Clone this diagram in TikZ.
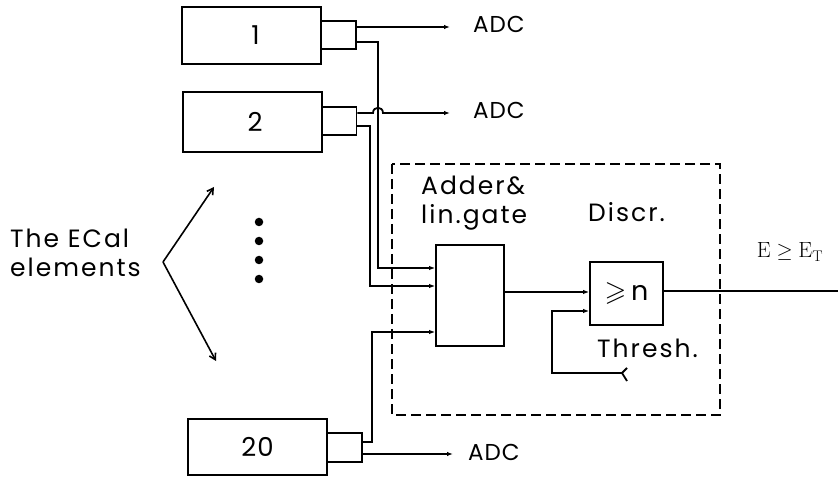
\documentclass[tikz,border=0pt]{standalone}
\usepackage{amssymb}
\usepackage{fontspec}
\newfontfamily\lab[LetterSpace=8]{Poppins}
\newfontfamily\labn[LetterSpace=4]{Poppins}
\usetikzlibrary{arrows.meta}
\begin{document}
\begin{tikzpicture}[x=1pt,y=-1pt,
  elem/.style={draw,line width=1.8pt,minimum width=139pt,minimum height=58pt,inner sep=0pt,font=\labn\fontsize{26}{30}\selectfont},
  conn/.style={draw,line width=1.8pt,minimum width=35pt,minimum height=28pt,inner sep=0pt},
  blk/.style={draw,line width=1.8pt,inner sep=0pt},
  sig/.style={line width=1.8pt},
  tip/.style={-{Latex[length=6pt,width=4.5pt]}},
  barb/.style={line width=1.6pt,-{Straight Barb[length=6pt,width=7pt]}},
  txt/.style={font=\lab\fontsize{25}{29}\selectfont,inner sep=0pt},
  adct/.style={font=\labn\fontsize{23}{28}\selectfont,inner sep=0pt,anchor=base west},
  dot/.style={circle,fill,inner sep=0pt,minimum size=8.5pt}
]
\useasboundingbox (0,0) rectangle (838,478);

% ECal elements
\node[elem,minimum height=57pt] (b1) at (251.5,35.5) {\hspace{8pt}1};
\node[conn] (c1) at (338.5,35) {};
\node[elem,minimum height=60pt] (b2) at (252.5,122) {\hspace{5pt}2};
\node[conn] (c2) at (339,121) {};
\node[elem,minimum height=56pt] (b20) at (257.5,447) {20};
\node[conn,minimum height=29pt] (c20) at (344.5,447.5) {};

% dots
\node[dot] (d1) at (259,222) {};
\node[dot] (d2) at (259,241) {};
\node[dot] (d3) at (259,260) {};
\node[dot] (d4) at (259,279) {};

% label with arrows
\node[txt,anchor=west,align=left] (lbl) at (10,253) {The ECal\\elements};
\coordinate (apex) at (163,262);
\coordinate (up) at (214,187);
\coordinate (dn) at (216,361);
\draw[barb] (apex) -- (up);
\draw[barb] (apex) -- (dn);

% dashed region
\draw[line width=1.6pt,dash pattern=on 10pt off 5pt] (392,164) rectangle (720,415);

% adder and discriminator
\node[blk,minimum width=68pt,minimum height=101pt] (add) at (470,295.5) {};
\node[txt,anchor=west,align=left] (addl) at (421,203) {Adder\&\\lin.gate};
\node[blk,minimum width=73pt,minimum height=63pt,font=\labn\fontsize{27}{30}\selectfont] (disc) at (626.5,293.5) {{\fontsize{28}{30}\selectfont$\geqslant$}\,n\hspace{12pt}};
\node[txt,anchor=base west] (discl) at (588,222) {Discr.};
\node[txt,anchor=base west] (thl) at (597,357) {Thresh.};

% ADC outputs
\coordinate (a1) at (450,27);
\coordinate (a2) at (450,113);
\coordinate (a3) at (453,454);
\draw[sig,tip] (c1.east |- a1) -- (a1);
\draw[sig,tip] (c2.east |- a2) -- (373,113) .. controls (373,106) and (383,106) .. (383,113) -- (a2);
\draw[sig,tip] (c20.east |- a3) -- (a3);
\node[adct] (adc1) at (473,33) {ADC};
\node[adct] (adc2) at (473,119) {ADC};
\node[adct] (adc3) at (468,460) {ADC};

% signals to adder
\draw[sig,tip] (c1.east |- 0,42) -- (378,42) -- (378,268) -- (add.west |- 0,268);
\draw[sig,tip] (c2.east |- 0,126) -- (370,126) -- (370,286) -- (add.west |- 0,286);
\draw[sig,tip] (c20.east |- 0,442) -- (372,442) -- (372,332) -- (add.west |- 0,332);

% adder to discriminator
\draw[sig,tip] (add.east |- 0,292) -- (disc.west |- 0,292);

% threshold input
\coordinate (th) at (622,373);
\draw[sig,tip] (th) -- (552,373) -- (552,311) -- (disc.west |- 0,311);
\draw[sig] (627,368) -- (th) -- (627,381);

% output
\coordinate (out) at (838,291);
\draw[sig] (disc.east |- out) -- (out);
\node[inner sep=0pt,font=\fontsize{22}{26}\selectfont] (eout) at (790,252) {$\mathrm{E}\geq\mathrm{E}_{\mathrm{T}}$};
\end{tikzpicture}
\end{document}
